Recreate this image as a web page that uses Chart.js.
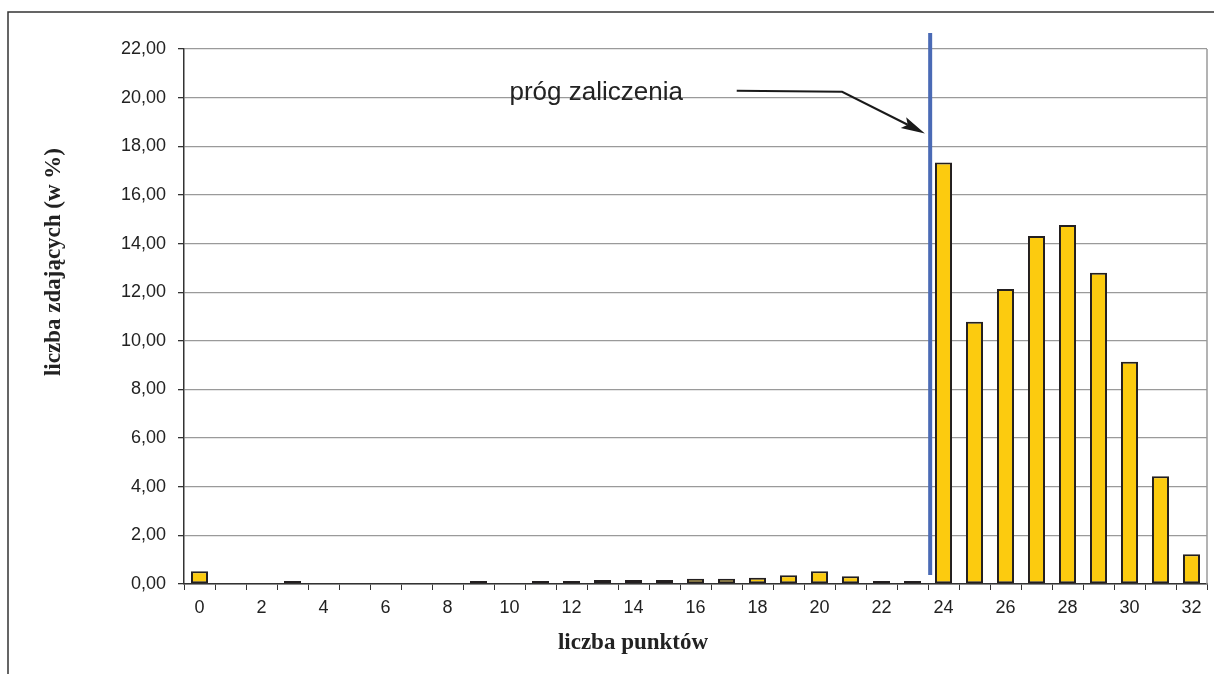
<!DOCTYPE html>
<html lang="pl">
<head>
<meta charset="utf-8">
<title>liczba punktów</title>
<script src="https://cdn.jsdelivr.net/npm/chart.js@4/dist/chart.umd.min.js"></script>
<style>
  html, body { margin: 0; padding: 0; background: #fff; }
  #wrap { width: 1214px; height: 674px; }
</style>
</head>
<body>
<div id="wrap"><canvas id="chart" width="1214" height="674"></canvas></div>
<script>
// points scored (0..32) and share of candidates in %
const categories = ['0', '1', '2', '3', '4', '5', '6', '7', '8', '9', '10', '11', '12', '13', '14', '15', '16',
    '17', '18', '19', '20', '21', '22', '23', '24', '25', '26', '27', '28', '29', '30', '31', '32'];
const percentages = [0.52, 0, 0, 0.04, 0, 0, 0, 0, 0, 0.12, 0, 0.11, 0.11, 0.16, 0.16, 0.16, 0.22,
    0.22, 0.26, 0.36, 0.52, 0.32, 0.04, 0.04, 17.33, 10.78, 12.13, 14.31, 14.76, 12.80, 9.14, 4.43, 1.22];
const yTicks = [0, 2, 4, 6, 8, 10, 12, 14, 16, 18, 20, 22];

const thresholdLabel = 'próg zaliczenia';
const thresholdAt = 23.57;          // between 23 and 24 points
const thresholdSpan = [0.37, 22.66];
const arrowX = [17.33, 20.73, 23.4];
const arrowY = [20.28, 20.24, 18.53];
const labelAt = { x: 10.0, y: 19.9 };

const fmt = v => v.toFixed(2).replace('.', ',');

const extras = {
    id: 'extras',
    afterDraw(chart) {
        const { ctx, chartArea: a, scales: { x, y } } = chart;
        ctx.save();

        // outer frame (top + left only)
        ctx.strokeStyle = '#333';
        ctx.lineWidth = 1.5;
        ctx.beginPath();
        ctx.moveTo(8, 674);
        ctx.lineTo(8, 12);
        ctx.lineTo(1214, 12);
        ctx.stroke();

        // right edge of plot area
        ctx.strokeStyle = '#9a9a9a';
        ctx.lineWidth = 1.5;
        ctx.beginPath();
        ctx.moveTo(a.right, a.top);
        ctx.lineTo(a.right, a.bottom);
        ctx.stroke();

        // threshold line
        const tx = x.getPixelForValue(thresholdAt);
        ctx.strokeStyle = '#4a6ab5';
        ctx.lineWidth = 4;
        ctx.beginPath();
        ctx.moveTo(tx, y.getPixelForValue(thresholdSpan[1]));
        ctx.lineTo(tx, y.getPixelForValue(thresholdSpan[0]));
        ctx.stroke();

        // arrow
        const pts = arrowX.map((v, i) => [x.getPixelForValue(v), y.getPixelForValue(arrowY[i])]);
        ctx.strokeStyle = '#1a1a1a';
        ctx.fillStyle = '#1a1a1a';
        ctx.lineWidth = 2;
        const [bx, by] = pts[1];
        const [ex, ey] = pts[2];
        const len = Math.hypot(ex - bx, ey - by);
        const ux = (ex - bx) / len, uy = (ey - by) / len;
        const head = 24, half = 6;
        ctx.beginPath();
        ctx.moveTo(pts[0][0], pts[0][1]);
        ctx.lineTo(bx, by);
        ctx.lineTo(ex - ux * head * 0.8, ey - uy * head * 0.8);
        ctx.stroke();
        ctx.beginPath();
        ctx.moveTo(ex, ey);
        ctx.lineTo(ex - ux * head - uy * half, ey - uy * head + ux * half);
        ctx.lineTo(ex - ux * head * 0.8, ey - uy * head * 0.8);
        ctx.lineTo(ex - ux * head + uy * half, ey - uy * head - ux * half);
        ctx.closePath();
        ctx.fill();

        // annotation text
        ctx.font = '26px "Liberation Sans", Arial, sans-serif';
        ctx.fillStyle = '#222';
        ctx.textAlign = 'left';
        ctx.textBaseline = 'alphabetic';
        ctx.fillText(thresholdLabel, x.getPixelForValue(labelAt.x), y.getPixelForValue(labelAt.y));

        // axis titles
        ctx.font = 'bold 23px "Liberation Serif", "Times New Roman", serif';
        ctx.textAlign = 'center';
        ctx.textBaseline = 'middle';
        ctx.fillText('liczba punktów', 633, 643);
        ctx.translate(54, 262);
        ctx.rotate(-Math.PI / 2);
        ctx.fillText('liczba zdających (w %)', 0, 0);

        ctx.restore();
    }
};

new Chart(document.getElementById('chart'), {
    type: 'bar',
    data: {
        labels: categories,
        datasets: [{
            data: percentages,
            backgroundColor: c => (c.raw === 0 ? 'rgba(0,0,0,0)' : '#fccb0f'),
            borderColor: '#231f20',
            borderWidth: c => (c.raw === 0 ? 0 : 2),
            borderSkipped: false,
            minBarLength: 3,
            barPercentage: 0.55,
            categoryPercentage: 1
        }]
    },
    options: {
        responsive: false,
        animation: false,
        layout: { padding: { left: 0, top: 49, right: 7, bottom: 0 } },
        plugins: { legend: { display: false }, tooltip: { enabled: false } },
        scales: {
            x: {
                offset: true,
                afterFit: s => { s.height = 90; },
                grid: { offset: true, drawOnChartArea: false, tickLength: 6, tickColor: '#333' },
                border: { color: '#333', width: 1.5, z: 1 },
                ticks: {
                    autoSkip: false,
                    maxRotation: 0,
                    padding: 7,
                    color: '#222',
                    font: { family: '"Liberation Sans", Arial, sans-serif', size: 18 },
                    callback: (v, i) => (i % 2 === 0 ? categories[i] : '')
                }
            },
            y: {
                min: yTicks[0],
                max: yTicks[yTicks.length - 1],
                afterFit: s => { s.width = 184; },
                afterBuildTicks: s => { s.ticks = yTicks.map(v => ({ value: v })); },
                grid: { color: '#9a9a9a', lineWidth: 1.3, tickLength: 6, tickColor: '#333' },
                border: { color: '#333', width: 1.5 },
                ticks: {
                    padding: 12,
                    color: '#222',
                    font: { family: '"Liberation Sans", Arial, sans-serif', size: 18 },
                    callback: v => fmt(v)
                }
            }
        }
    },
    plugins: [extras]
});
</script>
</body>
</html>
